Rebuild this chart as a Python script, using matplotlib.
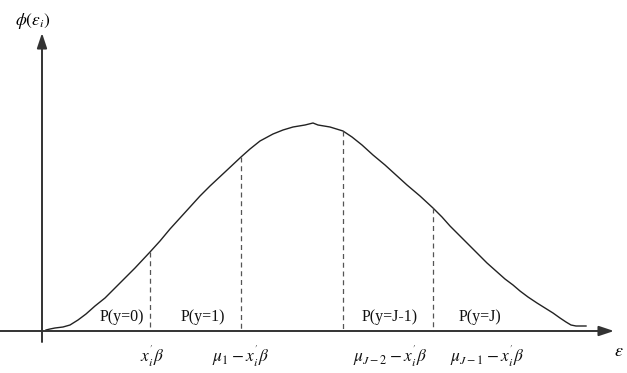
import matplotlib
matplotlib.use("Agg")
import matplotlib.pyplot as plt

plt.rcParams['font.family'] = ['Liberation Serif', 'DejaVu Serif']
plt.rcParams['mathtext.fontset'] = 'stix'

# curve (pixel coords, y down)
curve_x = [46, 50, 55, 63, 70, 78, 86, 95, 105, 115, 125, 135, 150, 160, 170, 180,
           190, 200, 210, 225, 241, 250, 260, 273, 283, 293, 305, 313, 318, 330,
           343, 352, 362, 373, 385, 396, 407, 420, 433, 442, 450, 460, 470, 480,
           487, 496, 505, 513, 520, 528, 537, 545, 553, 560, 566, 571, 576, 580, 586]
curve_y = [330, 329, 328, 327, 325, 320, 314, 306, 298, 288, 278, 268, 252, 241, 229, 218,
           207, 196, 186, 172, 157, 149, 141, 134, 130, 127, 125, 123, 125, 127,
           131, 137, 145, 155, 165, 175, 185, 196, 208, 217, 226, 236, 246, 256,
           263, 271, 279, 285, 291, 297, 303, 308, 313, 318, 322, 325, 326, 326, 326]

# thresholds (dashed lines) and where they meet the curve
cut_x = [150, 241, 343, 433]
cut_top = [252, 157, 131, 208]
cut_labels = [r"$x_i^{'}\beta$", r"$\mu_1 - x_i^{'}\beta$",
              r"$\mu_{J-2} - x_i^{'}\beta$", r"$\mu_{J-1} - x_i^{'}\beta$"]
cut_label_x = [152, 241, 390, 487]

region_labels = ["P(y=0)", "P(y=1)", "P(y=J-1)", "P(y=J)"]
region_x = [122, 203, 390, 480]

axis_y = 331
axis_x = 42

fig = plt.figure(figsize=(6.27, 3.73), dpi=100)
ax = fig.add_axes([0, 0, 1, 1])
ax.set_xlim(0, 627)
ax.set_ylim(373, 0)
ax.axis('off')

# axes with arrows
ax.annotate("", xy=(614, axis_y), xytext=(0, axis_y),
            arrowprops=dict(arrowstyle="-|>,head_length=0.9,head_width=0.3",
                            color="#333333", lw=1.4, shrinkA=0, shrinkB=0))
ax.annotate("", xy=(axis_x, 33), xytext=(axis_x, 342),
            arrowprops=dict(arrowstyle="-|>,head_length=0.9,head_width=0.3",
                            color="#333333", lw=1.4, shrinkA=0, shrinkB=0))

ax.plot(curve_x, curve_y, color="#222222", lw=1.0, solid_joinstyle='round')

for x, top in zip(cut_x, cut_top):
    ax.plot([x, x], [top, axis_y], color="#555555", lw=0.9, ls=(0, (4, 3)))

for x, lab in zip(region_x, region_labels):
    ax.text(x, 317, lab, ha='center', va='center', fontsize=11.5, color="#111111")

for x, lab in zip(cut_label_x, cut_labels):
    ax.text(x, 356, lab, ha='center', va='center', fontsize=12.5, color="#111111")

ax.text(619, 352, r"$\varepsilon$", ha='center', va='center', fontsize=13)
ax.text(33, 21, r"$\phi(\varepsilon_i)$", ha='center', va='center', fontsize=12.5)

fig.savefig("out.png", dpi=100)
